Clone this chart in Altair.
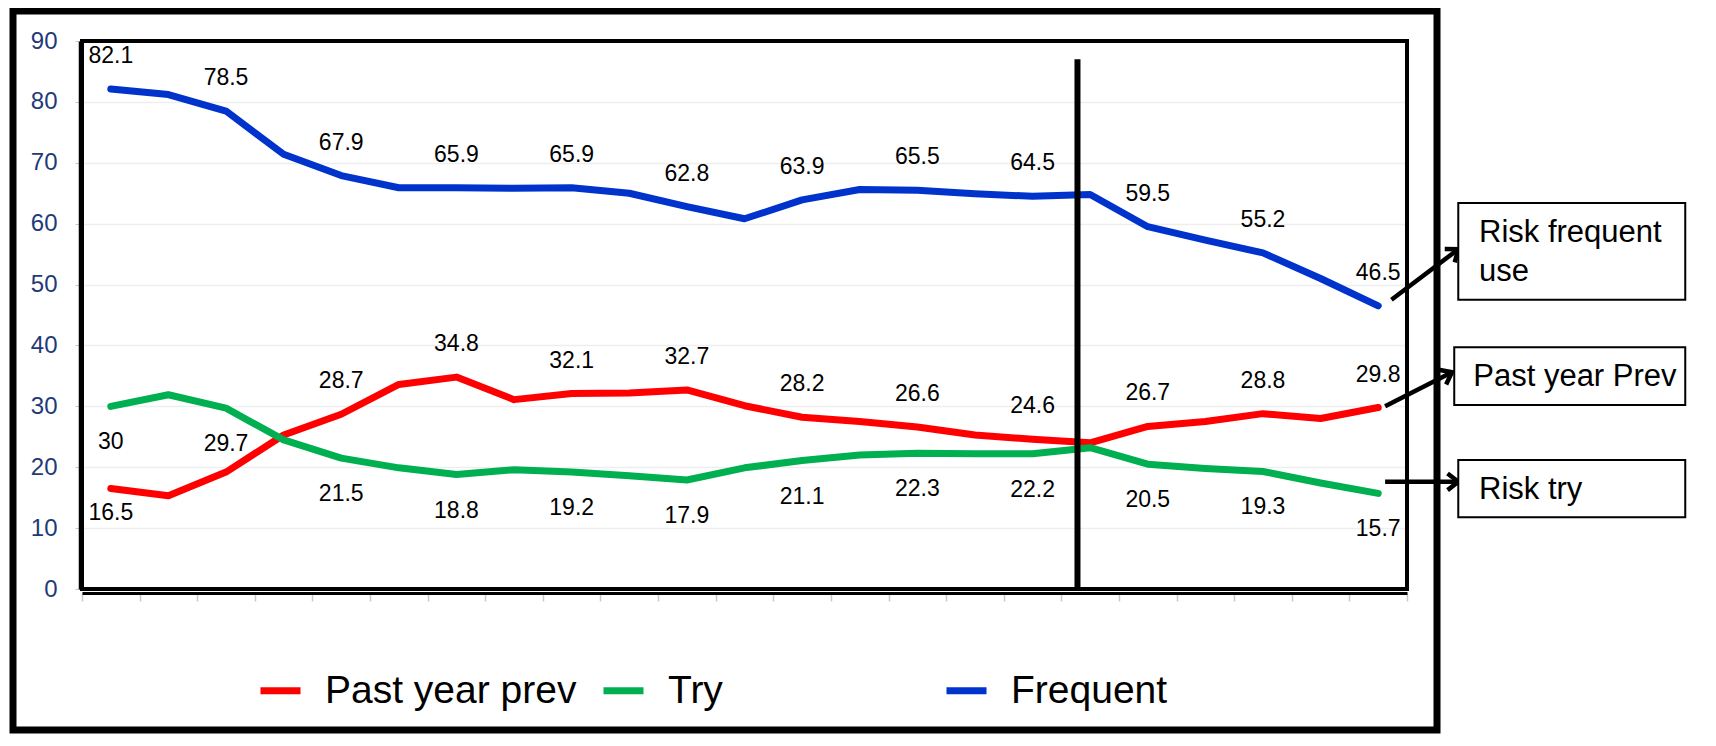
import math
import altair as alt
import pandas as pd

# ---------------- data ----------------
idx = list(range(1, 24))
past_year_prev = [16.5, 15.3, 19.2, 25.3, 28.7, 33.6, 34.8, 31.1, 32.1, 32.2, 32.7, 30.1,
                  28.2, 27.5, 26.6, 25.3, 24.6, 24.0, 26.7, 27.5, 28.8, 28.0, 29.8]
try_vals = [30.0, 31.9, 29.7, 24.5, 21.5, 19.9, 18.8, 19.6, 19.2, 18.6, 17.9, 19.9,
            21.1, 22.0, 22.3, 22.2, 22.2, 23.2, 20.5, 19.8, 19.3, 17.4, 15.7]
frequent = [82.1, 81.2, 78.5, 71.4, 67.9, 65.9, 65.9, 65.8, 65.9, 65.0, 62.8, 60.8,
            63.9, 65.6, 65.5, 64.9, 64.5, 64.8, 59.5, 57.3, 55.2, 51.0, 46.5]

series_names = ["Past year prev", "Try", "Frequent"]
series_colors = ["#ff0000", "#00b050", "#0033cc"]

labelled_past = [1, 5, 7, 9, 11, 13, 15, 17, 19, 21, 23]
labelled_try = [1, 3, 5, 7, 9, 11, 13, 15, 17, 19, 21, 23]
labelled_freq = [1, 3, 5, 7, 9, 11, 13, 15, 17, 19, 21, 23]

y_ticks = [0, 10, 20, 30, 40, 50, 60, 70, 80, 90]
x_ticks = [i + 0.5 for i in range(0, 24)]

divider_x = [17.78]
divider_top = [87.0]

# annotation boxes (in data units of the chart scales)
box_x = [24.39, 24.32, 24.39]
box_x2 = [28.33, 28.33, 28.33]
box_y = [63.4, 39.7, 21.2]
box_y2 = [47.5, 30.2, 11.8]

note_text = ["Risk frequent", "use", "Past year Prev", "Risk try"]
note_x = [24.75, 24.75, 24.65, 24.75]
note_y = [58.5, 52.1, 34.8, 16.3]

arrow_x = [23.23, 23.12, 23.12]
arrow_y = [47.5, 30.0, 17.6]
arrow_x2 = [24.39, 24.28, 24.39]
arrow_y2 = [55.8, 35.6, 17.6]

# ---------------- layout ----------------
W, H = 1325, 548
XMIN, XMAX, YMIN, YMAX = 0.5, 23.5, 0, 90
FONT = "Liberation Sans"

rows = []
for name, vals in zip(series_names, [past_year_prev, try_vals, frequent]):
    for i, v in zip(idx, vals):
        rows.append({"idx": i, "series": name, "value": v})
df = pd.DataFrame(rows)

lab_rows = []
for name, vals, lab in zip(series_names, [past_year_prev, try_vals, frequent],
                           [labelled_past, labelled_try, labelled_freq]):
    for i in lab:
        lab_rows.append({"idx": i, "series": name, "value": vals[i - 1]})
lab_df = pd.DataFrame(lab_rows)

xs = alt.Scale(domain=[XMIN, XMAX], nice=False, zero=False)
ys = alt.Scale(domain=[YMIN, YMAX], nice=False, zero=False)


def X(field):
    return alt.X(field, type="quantitative", scale=xs, title=None)


def Y(field):
    return alt.Y(field, type="quantitative", scale=ys, title=None)


line = alt.Chart(df).mark_line(strokeWidth=7, strokeCap="round", strokeJoin="round").encode(
    x=alt.X("idx:Q", scale=xs, title=None, axis=alt.Axis(
        values=x_ticks, labels=False, title=None, grid=False,
        domainColor="black", domainWidth=3, offset=4,
        tickColor="#c8c8c8", tickSize=8, tickWidth=1.5)),
    y=alt.Y("value:Q", scale=ys, title=None, axis=alt.Axis(
        values=y_ticks, title=None, labelFont=FONT, labelFontSize=24,
        labelColor="#1f3a78", grid=True, gridColor="#eeeeee", gridWidth=1.5,
        domainColor="black", domainWidth=1.5, offset=3,
        tickColor="#c8c8c8", tickSize=4, labelPadding=18)),
    color=alt.Color("series:N", scale=alt.Scale(domain=series_names, range=series_colors),
                    legend=alt.Legend(
                        title=None, orient="none", legendX=175, legendY=626,
                        direction="horizontal", columns=3, gridAlign="all",
                        symbolType="stroke", symbolSize=1600, symbolStrokeWidth=7,
                        labelFont=FONT, labelFontSize=39, labelColor="black",
                        labelOffset=21, columnPadding=12, labelLimit=600,
                        padding=0)),
)

plot_border = alt.Chart(pd.DataFrame({"x": [XMIN], "x2": [XMAX], "y": [YMIN], "y2": [YMAX]})).mark_rect(
    fillOpacity=0, stroke="black", strokeWidth=4).encode(
    x=X("x"), x2="x2:Q", y=Y("y"), y2="y2:Q",
)

base_lab = alt.Chart(lab_df).encode(
    x=X("idx"),
    y=Y("value"),
    text=alt.Text("value:Q", format=".1~f"),
)
lab_above = base_lab.transform_filter(
    "datum.series == 'Frequent' || (datum.series == 'Past year prev' && datum.idx != 1)"
).mark_text(font=FONT, fontSize=23, color="black", dy=-33, baseline="middle")
lab_below = base_lab.transform_filter("datum.series == 'Try'").mark_text(
    font=FONT, fontSize=23, color="black", dy=36, baseline="middle")
lab_below2 = base_lab.transform_filter(
    "datum.series == 'Past year prev' && datum.idx == 1").mark_text(
    font=FONT, fontSize=23, color="black", dy=24, baseline="middle")

div_df = pd.DataFrame({"x": divider_x, "y": [0] * len(divider_x), "y2": divider_top})
divider = alt.Chart(div_df).mark_rule(color="black", strokeWidth=6).encode(
    x=X("x"), y=Y("y"), y2="y2:Q",
)

box_df = pd.DataFrame({"x": box_x, "x2": box_x2, "y": box_y, "y2": box_y2})
boxes = alt.Chart(box_df).mark_rect(fill="white", stroke="black", strokeWidth=2).encode(
    x=X("x"), x2="x2:Q", y=Y("y"), y2="y2:Q",
)

note_df = pd.DataFrame({"x": note_x, "y": note_y, "t": note_text})
notes = alt.Chart(note_df).mark_text(font=FONT, fontSize=31, color="black",
                                     align="left", baseline="middle").encode(
    x=X("x"), y=Y("y"), text="t:N",
)

px_x = W / (XMAX - XMIN)
px_y = H / (YMAX - YMIN)
angles = []
for x1, y1, x2, y2 in zip(arrow_x, arrow_y, arrow_x2, arrow_y2):
    a = math.degrees(math.atan2(-(y2 - y1) * px_y, (x2 - x1) * px_x)) % 360
    angles.append(a)
arr_df = pd.DataFrame({"x": arrow_x, "y": arrow_y, "x2": arrow_x2, "y2": arrow_y2,
                       "angle": angles})
arrow_lines = alt.Chart(arr_df).mark_rule(color="black", strokeWidth=4.5).encode(
    x=X("x"), x2="x2:Q", y=Y("y"), y2="y2:Q",
)
arrow_heads = alt.Chart(arr_df).mark_point(
    shape="M -1.1 -0.85 L 0 0 L -1.1 0.85", filled=False, stroke="black",
    strokeWidth=4.5, size=380, opacity=1, strokeJoin="miter").encode(
    x=X("x2"), y=Y("y2"),
    angle=alt.Angle("angle:Q", scale=None),
)

frame = alt.Chart(pd.DataFrame({"k": [0]})).mark_rect(
    fillOpacity=0, stroke="black", strokeWidth=7).encode(
    x=alt.value(-69), x2=alt.value(1355), y=alt.value(-30), y2=alt.value(689),
)

chart = alt.layer(
    line, plot_border, frame, divider, lab_above, lab_below, lab_below2,
    arrow_lines, arrow_heads, boxes, notes
).properties(
    width=W, height=H,
    padding={"left": 74, "top": 33, "right": 295, "bottom": 145},
    autosize=alt.AutoSizeParams(type="none"),
    background="white",
).configure_view(stroke="black", strokeWidth=4)

chart.save("out.html", embed_options={"renderer": "svg", "actions": False})
